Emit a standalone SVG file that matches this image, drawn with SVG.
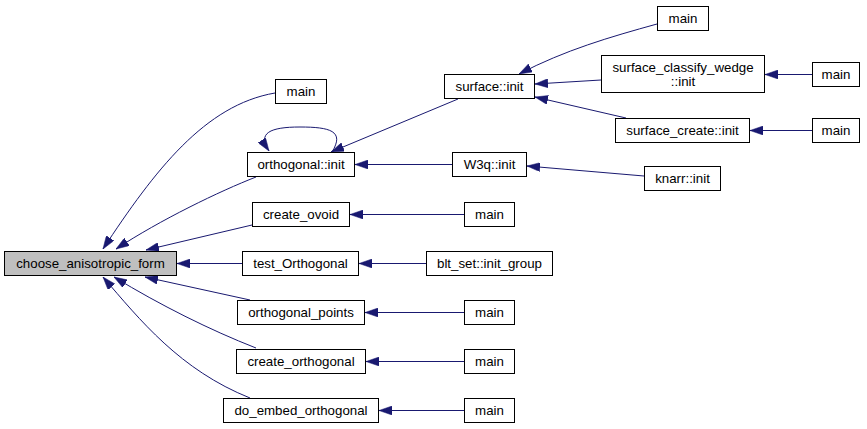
<svg xmlns="http://www.w3.org/2000/svg" width="867" height="429" viewBox="0 0 867 429">
<style>
.node rect{fill:#fff;stroke:#000;stroke-width:1}
.node.hl rect{fill:#bfbfbf}
.node text{font-family:"Liberation Sans",Arial,sans-serif;font-size:13.3px;fill:#000;text-anchor:middle}
.edges path{fill:none;stroke:#191970;stroke-width:1;marker-end:url(#ah)}
</style>
<defs>
<marker id="ah" viewBox="0 0 13 9" refX="13" refY="4.5" markerWidth="13" markerHeight="9" markerUnits="userSpaceOnUse" orient="auto">
<path d="M0,0 L13,4.5 L0,9 z" fill="#191970" stroke="#191970" stroke-width="0.5"/>
</marker>
</defs>
<rect width="867" height="429" fill="#fff"/>
<g class="edges">
<path d="M275,93 C205,105 155,170 103,249"/>
<path d="M256,177 C220,191 160,220 116,249"/>
<path d="M252,225 L146,250"/>
<path d="M242,263.5 L177,263.5"/>
<path d="M250,300 L145,277"/>
<path d="M256,348 C210,330 160,305 114,277"/>
<path d="M250,398 C180,370 140,320 103,277"/>
<path d="M332,152 C345,131 330,127 300,127 C270,127 257,133 269,151"/>
<path d="M458,99 L331,152"/>
<path d="M452,164.5 L355,164.5"/>
<path d="M657,24 C610,37 565,50 519,74"/>
<path d="M601,80 L535,84"/>
<path d="M626,118 L535,97"/>
<path d="M644,176 L527,166"/>
<path d="M812,74.5 L765,74.5"/>
<path d="M812,130.5 L750,130.5"/>
<path d="M464,214.5 L350,214.5"/>
<path d="M426,263.5 L359,263.5"/>
<path d="M464,312.5 L365,312.5"/>
<path d="M464,361.5 L366,361.5"/>
<path d="M464,410.5 L379,410.5"/>
</g>
<g id="n_choose" class="node hl"><rect x="4.5" y="251.5" width="172" height="24"/><text x="90.5" y="268">choose_anisotropic_form</text></g>
<g id="n_main1" class="node"><rect x="275.5" y="79.5" width="51" height="24"/><text x="301" y="96">main</text></g>
<g id="n_orthinit" class="node"><rect x="247.5" y="152.5" width="107" height="24"/><text x="301" y="169">orthogonal::init</text></g>
<g id="n_ovoid" class="node"><rect x="252.5" y="202.5" width="97" height="24"/><text x="301" y="219">create_ovoid</text></g>
<g id="n_testorth" class="node"><rect x="242.5" y="251.5" width="116" height="24"/><text x="300.5" y="268">test_Orthogonal</text></g>
<g id="n_orthpts" class="node"><rect x="237.5" y="300.5" width="127" height="24"/><text x="301" y="317">orthogonal_points</text></g>
<g id="n_createorth" class="node"><rect x="236.5" y="349.5" width="129" height="24"/><text x="301" y="366">create_orthogonal</text></g>
<g id="n_doembed" class="node"><rect x="223.5" y="398.5" width="155" height="24"/><text x="301" y="415">do_embed_orthogonal</text></g>
<g id="n_surfinit" class="node"><rect x="444.5" y="74.5" width="90" height="24"/><text x="489.5" y="91">surface::init</text></g>
<g id="n_w3q" class="node"><rect x="452.5" y="152.5" width="74" height="24"/><text x="489.5" y="169">W3q::init</text></g>
<g id="n_main_ovoid" class="node"><rect x="464.5" y="202.5" width="50" height="24"/><text x="489.5" y="219">main</text></g>
<g id="n_bltset" class="node"><rect x="426.5" y="251.5" width="126" height="24"/><text x="489.5" y="268">blt_set::init_group</text></g>
<g id="n_main_pts" class="node"><rect x="464.5" y="300.5" width="50" height="24"/><text x="489.5" y="317">main</text></g>
<g id="n_main_corth" class="node"><rect x="464.5" y="349.5" width="50" height="24"/><text x="489.5" y="366">main</text></g>
<g id="n_main_embed" class="node"><rect x="464.5" y="398.5" width="50" height="24"/><text x="489.5" y="415">main</text></g>
<g id="n_main_top" class="node"><rect x="657.5" y="6.5" width="51" height="24"/><text x="683" y="23">main</text></g>
<g id="n_classify" class="node"><rect x="601.5" y="55.5" width="163" height="37"/><text x="683" y="71.5">surface_classify_wedge</text><text x="683" y="86">::init</text></g>
<g id="n_screate" class="node"><rect x="615.5" y="118.5" width="134" height="24"/><text x="682.5" y="135">surface_create::init</text></g>
<g id="n_knarr" class="node"><rect x="644.5" y="166.5" width="76" height="24"/><text x="682.5" y="183">knarr::init</text></g>
<g id="n_main_cls" class="node"><rect x="812.5" y="62.5" width="47" height="24"/><text x="836" y="79">main</text></g>
<g id="n_main_scr" class="node"><rect x="812.5" y="118.5" width="47" height="24"/><text x="836" y="135">main</text></g>
</svg>
